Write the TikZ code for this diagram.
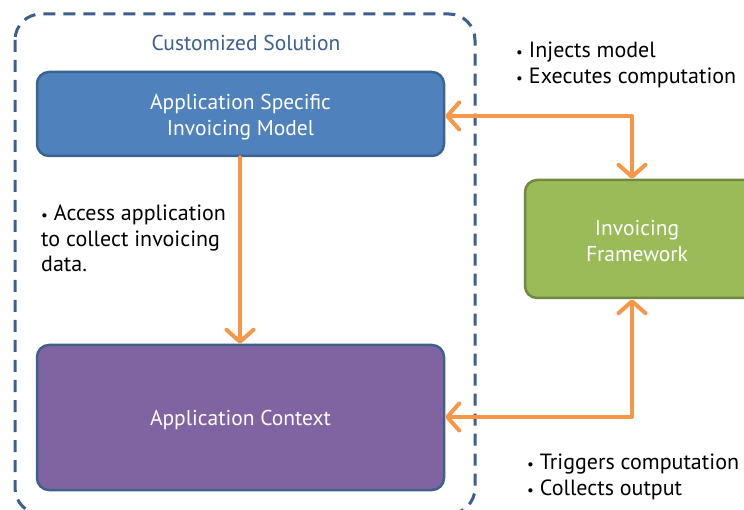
\documentclass[tikz,border=0pt]{standalone}
\usepackage{fontspec}
\setmainfont{PT Sans}
\usetikzlibrary{arrows.meta}
\definecolor{frameblue}{HTML}{3B5F8E}
\definecolor{modelfill}{HTML}{4F81BD}
\definecolor{modeledge}{HTML}{3A6494}
\definecolor{ctxfill}{HTML}{8064A2}
\definecolor{ctxedge}{HTML}{40608C}
\definecolor{fwfill}{HTML}{9BBB59}
\definecolor{fwedge}{HTML}{71893F}
\definecolor{flow}{HTML}{F79646}
% small bullet used in the side notes
\newcommand\notebullet{{\fontsize{15}{0}\selectfont•}\hspace{6pt}}
\tikzset{
  x=1pt, y=-1pt,
  txt/.style={font=\fontsize{21.5}{25.5}\selectfont},
  box/.style={draw, line width=2.5pt, rounded corners=12pt, inner sep=0pt},
  boxtext/.style={txt, text=white, align=center, inner sep=0pt},
  note/.style={font=\fontsize{22}{25.5}\selectfont, align=left, anchor=north west, inner sep=0pt},
  barb/.tip={Straight Barb[length=12pt, width=27pt, line width=4pt, round]},
  flowline/.style={draw=flow, line width=4pt, line cap=round, line join=round, barb-barb},
  oneway/.style={draw=flow, line width=4pt, line cap=round, -barb}
}
\begin{document}
\begin{tikzpicture}
\useasboundingbox (0,0) rectangle (744,510);
% solution frame
\draw[frameblue, line width=3pt, dash pattern=on 12pt off 8pt, rounded corners=26pt]
  (15,14) rectangle (475,514);
\node[text=frameblue, txt] (title) at (246,43) {Customized Solution};
% components
\node[box, fill=modelfill, draw=modeledge, minimum width=407pt, minimum height=84pt]
  (model) at (240.5,114) {};
\node[boxtext] (modeltext) at (240.5,117) {Application Specific\\Invoicing Model};
\node[box, fill=ctxfill, draw=ctxedge, minimum width=407pt, minimum height=145pt]
  (ctx) at (240.5,417.5) {};
\node[boxtext] (ctxtext) at (240.5,420) {Application Context};
\node[box, fill=fwfill, draw=fwedge, minimum width=240pt, minimum height=118pt]
  (fw) at (645,239) {};
\node[boxtext] (fwtext) at (637,241) {Invoicing\\Framework};
% notes
\node[note] (n1) at (516,42) {\notebullet Injects model\\\notebullet Executes computation};
\node[note] (n2) at (41,205) {\notebullet Access application\\to collect invoicing\\data.};
\node[note] (n3) at (527,454) {\notebullet Triggers computation\\\notebullet Collects output};
% flows
\coordinate (c1) at (632,116);
\coordinate (c2) at (632,417);
\draw[oneway] (model.south -| 240,0) -- (ctx.north -| 240,0);
\draw[flowline] (model.east |- c1) -- (c1) -- (c1 |- fw.north);
\draw[flowline] (c2 |- fw.south) -- (c2) -- (ctx.east |- c2);
\end{tikzpicture}
\end{document}
